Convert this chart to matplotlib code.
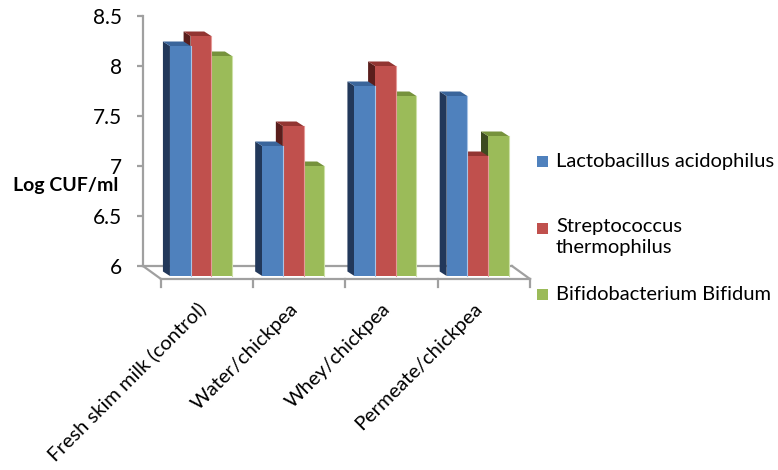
import matplotlib
matplotlib.use("Agg")
import matplotlib.pyplot as plt
from matplotlib.patches import Polygon, Rectangle

plt.rcParams['font.family'] = ['Lato', 'DejaVu Sans']

categories = ['Fresh skim milk (control)', 'Water/chickpea', 'Whey/chickpea', 'Permeate/chickpea']
series_names = ['Lactobacillus acidophilus', 'Streptococcus\nthermophilus', 'Bifidobacterium Bifidum']
lacto = [8.2, 7.2, 7.8, 7.7]
strepto = [8.3, 7.4, 8.0, 7.1]
bifido = [8.1, 7.0, 7.7, 7.3]
yticks = [6, 6.5, 7, 7.5, 8, 8.5]
ytick_labels = ['6', '6.5', '7', '7.5', '8', '8.5']

# front / side / top shades for each series
front_cols = ['#4f81bd', '#c0504d', '#9bbb59']
side_cols = ['#22385a', '#5a1e1c', '#3d4b21']
top_cols = ['#3a659b', '#923532', '#76923c']
edge_cols = ['#a9c4e6', '#e59a98', '#cde0a6']
grey = '#a0a0a0'

# fake 3d: offsets of the floor and the bars (data units)
floor_dx, floor_dy = 0.195, -0.13
bar_dx, bar_dy = -0.076, 0.045
bar_w = 0.224
bar_shift = 0.128
bar_base = 5.9

fig = plt.figure(figsize=(7.78, 4.70), dpi=100)
ax = fig.add_axes([143 / 778, 204 / 470, 369 / 778, 250 / 470])
ax.set_xlim(-0.5, len(categories) - 0.5)
ax.set_ylim(6, 8.5)

for s in ['top', 'right', 'bottom']:
    ax.spines[s].set_visible(False)
ax.spines['left'].set_color(grey)
ax.spines['left'].set_linewidth(1.6)
ax.set_xticks([])
ax.set_yticks(yticks)
ax.set_yticklabels(ytick_labels, fontsize=15)
ax.tick_params(axis='y', direction='out', length=4.5, width=1.6, color=grey, pad=10.5)

# floor
n = len(categories)
x_left, x_right = -0.5, n - 0.5
fy = 6 + floor_dy
ax.plot([x_left, x_right], [6, 6], color=grey, lw=1.6, clip_on=False, zorder=1)
ax.plot([x_left, x_left + floor_dx], [6, fy], color=grey, lw=1.6, clip_on=False, zorder=1)
ax.plot([x_right, x_right + floor_dx], [6, fy], color=grey, lw=1.6, clip_on=False, zorder=1)
ax.plot([x_left + floor_dx, x_right + floor_dx], [fy, fy], color=grey, lw=1.6, clip_on=False, zorder=1)
for k in range(n + 1):
    xt = x_left + floor_dx + k
    ax.plot([xt, xt], [fy, fy - 0.08], color=grey, lw=1.6, clip_on=False, zorder=1)


def draw_bar(x0, val, j):
    x1 = x0 + bar_w
    side = [(x0, bar_base), (x0, val), (x0 + bar_dx, val + bar_dy), (x0 + bar_dx, bar_base + bar_dy)]
    top = [(x0, val), (x1, val), (x1 + bar_dx, val + bar_dy), (x0 + bar_dx, val + bar_dy)]
    front = [(x0, bar_base), (x1, bar_base), (x1, val), (x0, val)]
    ax.add_patch(Polygon(side, closed=True, fc=side_cols[j], ec='none', clip_on=False, zorder=2))
    ax.add_patch(Polygon(top, closed=True, fc=top_cols[j], ec='none', clip_on=False, zorder=2))
    ax.add_patch(Polygon(front, closed=True, fc=front_cols[j], ec='none', clip_on=False, zorder=2))
    ax.plot([x1, x1], [bar_base, val], color=edge_cols[j], lw=0.8, clip_on=False, zorder=2)


data = [lacto, strepto, bifido]
for i in range(n):
    # right to left so that nearer front faces hide the side faces behind them
    for j in reversed(range(3)):
        x0 = i + bar_shift + (j - 1.5) * bar_w
        draw_bar(x0, data[j][i], j)

for i, cat in enumerate(categories):
    ax.text(i + 0.15, 5.6, cat, rotation=45, rotation_mode='anchor',
            ha='right', va='center', fontsize=14.5, clip_on=False)

fig.text(13 / 778, 1 - 185 / 470, 'Log CUF/ml', fontsize=14, fontweight='bold',
         ha='left', va='center')

# legend
leg_y = [161, 228, 294]
for j in range(3):
    fig.patches.append(Rectangle((537 / 778, 1 - (leg_y[j] + 5.5) / 470), 11 / 778, 11 / 470,
                                 transform=fig.transFigure, fc=front_cols[j], ec='none'))
    ty = leg_y[j] - 10 if j == 1 else leg_y[j]
    fig.text(556 / 778, 1 - ty / 470, series_names[j], fontsize=14.5,
             ha='left', va='top' if j == 1 else 'center', linespacing=1.3)

fig.savefig('out.png', dpi=100, facecolor='white')
